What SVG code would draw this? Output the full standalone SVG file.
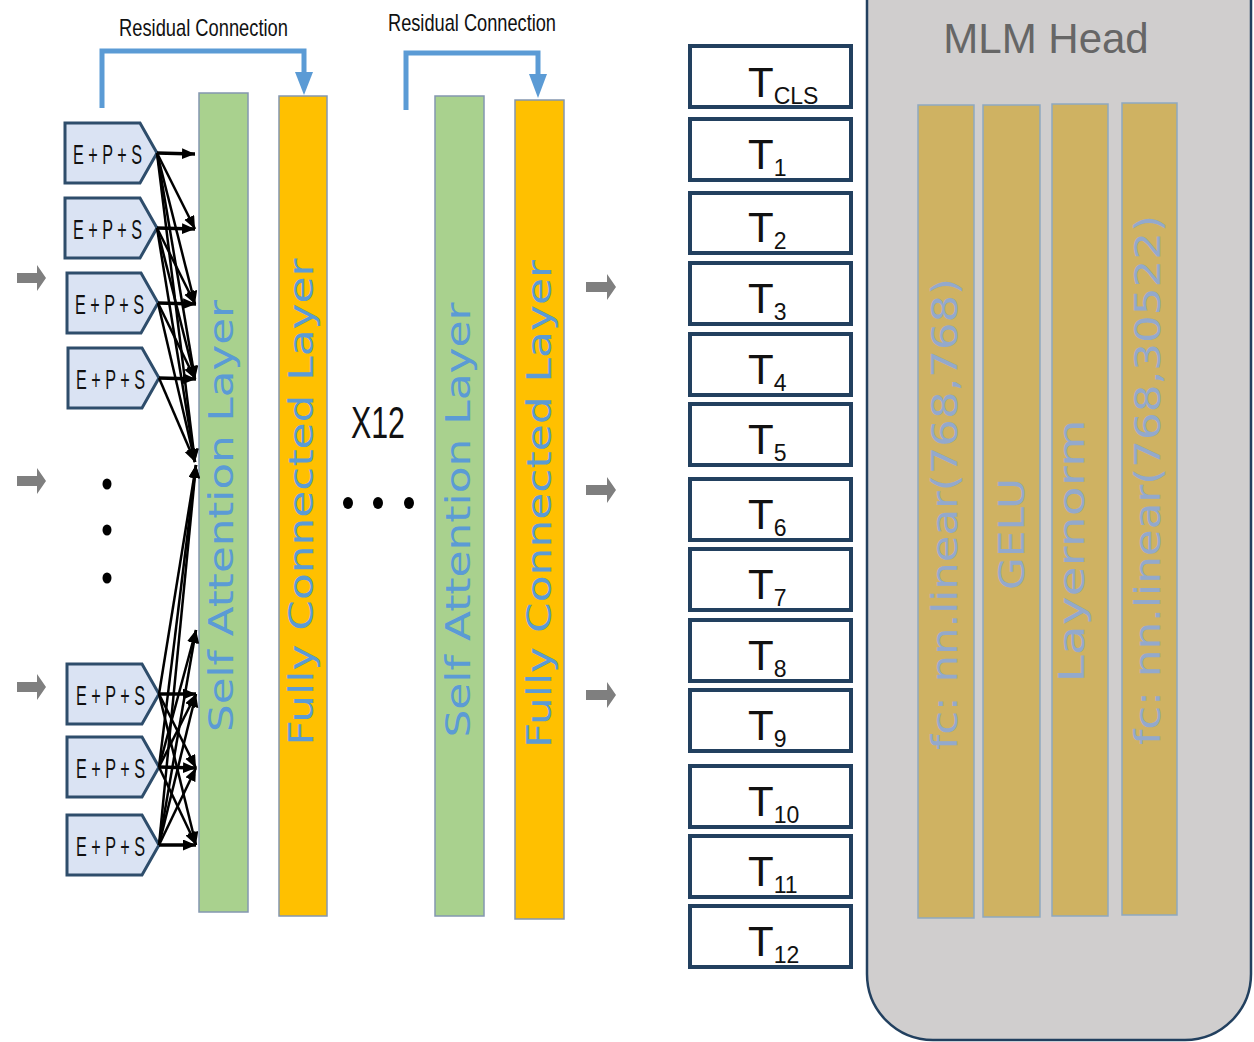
<svg xmlns="http://www.w3.org/2000/svg" width="1254" height="1042" viewBox="0 0 1254 1042">
<defs>
<style>
.eps{fill:#dae3f3;stroke:#2e4d6b;stroke-width:3;stroke-linejoin:miter}
.epst{font-family:"Liberation Sans",Arial,sans-serif;font-size:27px;fill:#111;white-space:pre}
.sa{fill:#a9d18e;stroke:#8497b0;stroke-width:1.5}
.fc{fill:#ffc000;stroke:#8497b0;stroke-width:1.5}
.lt{font-family:"DejaVu Sans","Liberation Sans",sans-serif;font-size:34px;fill:#5b9bd5;text-anchor:middle}
.res{fill:none;stroke:#5b9bd5;stroke-width:5}
.rest{font-family:"Liberation Sans",Arial,sans-serif;font-size:24px;fill:#111}
.tb{fill:#fff;stroke:#22405f;stroke-width:4}
.tt{font-family:"Liberation Sans",Arial,sans-serif;font-size:42px;fill:#111}
.ts{font-size:23px}
.gold{fill:#cfb262;stroke:#8ea9c1;stroke-width:1.5}
.gt{font-family:"DejaVu Sans","Liberation Sans",sans-serif;font-size:36px;fill:#93a9cc;text-anchor:middle}
.ga{fill:#7f7f7f}
.c{stroke:#000;stroke-width:2.5;fill:none;marker-end:url(#ah)}
.cs{stroke:#000;stroke-width:3.5;fill:none;marker-end:url(#ah)}
.dot{fill:#000}
</style>
<marker id="ah" markerUnits="userSpaceOnUse" markerWidth="14" markerHeight="12" refX="13" refY="5.5" orient="auto">
<path d="M0,0 L13,5.5 L0,11 z" fill="#000"/>
</marker>
</defs>
<rect width="1254" height="1042" fill="#fff"/>

<!-- MLM Head -->
<g id="mlm-head">
<rect x="867" y="-70" width="384" height="1110" rx="66" ry="66" fill="#d0cece" stroke="#22405f" stroke-width="2.5"/>
<text x="1046" y="53" font-family="'Liberation Sans',Arial,sans-serif" font-size="42" fill="#666" text-anchor="middle">MLM Head</text>
</g>
<g id="mlm-fc1">
<rect class="gold" x="918" y="105" width="56" height="813"/>
<text class="gt" transform="translate(957,514) rotate(-90)" textLength="472" lengthAdjust="spacingAndGlyphs">fc: nn.linear(768,768)</text>
</g>
<g id="mlm-gelu">
<rect class="gold" x="983" y="105" width="57" height="812"/>
<text class="gt" transform="translate(1024,534) rotate(-90)" textLength="112" lengthAdjust="spacingAndGlyphs">GELU</text>
</g>
<g id="mlm-layernorm">
<rect class="gold" x="1052" y="104" width="56" height="812"/>
<text class="gt" transform="translate(1084,551) rotate(-90)" textLength="263" lengthAdjust="spacingAndGlyphs">Layernorm</text>
</g>
<g id="mlm-fc2">
<rect class="gold" x="1122" y="103" width="55" height="812"/>
<text class="gt" transform="translate(1160,480) rotate(-90)" textLength="530" lengthAdjust="spacingAndGlyphs">fc: nn.linear(768,30522)</text>
</g>

<!-- Layers -->
<g id="sa1">
<rect class="sa" x="199" y="93" width="49" height="819"/>
<text class="lt" transform="translate(233,516) rotate(-90)" textLength="432" lengthAdjust="spacingAndGlyphs">Self Attention Layer</text>
</g>
<g id="fc1">
<rect class="fc" x="279" y="96" width="48" height="820"/>
<text class="lt" transform="translate(313,502) rotate(-90)" textLength="487" lengthAdjust="spacingAndGlyphs">Fully Connected Layer</text>
</g>
<g id="sa2">
<rect class="sa" x="435" y="96" width="49" height="820"/>
<text class="lt" transform="translate(470,520) rotate(-90)" textLength="435" lengthAdjust="spacingAndGlyphs">Self Attention Layer</text>
</g>
<g id="fc2">
<rect class="fc" x="515" y="100" width="49" height="819"/>
<text class="lt" transform="translate(551,504) rotate(-90)" textLength="488" lengthAdjust="spacingAndGlyphs">Fully Connected Layer</text>
</g>

<!-- Residual connections -->
<g id="residual1">
<text class="rest" x="119" y="36" textLength="169" lengthAdjust="spacingAndGlyphs">Residual Connection</text>
<polyline class="res" points="102,108 102,51 304,51 304,74"/>
<path d="M295,72 L313,72 L304,95 z" fill="#5b9bd5"/>
</g>
<g id="residual2">
<text class="rest" x="388" y="31" textLength="168" lengthAdjust="spacingAndGlyphs">Residual Connection</text>
<polyline class="res" points="406,110 406,53 538,53 538,76"/>
<path d="M529,74 L547,74 L538,98 z" fill="#5b9bd5"/>
</g>

<!-- Embedding nodes -->
<g id="eps1"><path class="eps" d="M65,123 H140 L157,153 L140,183 H65 z"/><text class="epst" x="73" y="164" textLength="69" lengthAdjust="spacingAndGlyphs">E + P + S</text></g>
<g id="eps2"><path class="eps" d="M65,198 H140 L157,228 L140,258 H65 z"/><text class="epst" x="73" y="239" textLength="69" lengthAdjust="spacingAndGlyphs">E + P + S</text></g>
<g id="eps3"><path class="eps" d="M67,273 H141 L158,303 L141,333 H67 z"/><text class="epst" x="75" y="314" textLength="69" lengthAdjust="spacingAndGlyphs">E + P + S</text></g>
<g id="eps4"><path class="eps" d="M68,348 H142 L159,378 L142,408 H68 z"/><text class="epst" x="76" y="389" textLength="69" lengthAdjust="spacingAndGlyphs">E + P + S</text></g>
<g id="eps5"><path class="eps" d="M67,664 H142 L159,694 L142,724 H67 z"/><text class="epst" x="76" y="705" textLength="69" lengthAdjust="spacingAndGlyphs">E + P + S</text></g>
<g id="eps6"><path class="eps" d="M67,737 H142 L159,767 L142,797 H67 z"/><text class="epst" x="76" y="778" textLength="69" lengthAdjust="spacingAndGlyphs">E + P + S</text></g>
<g id="eps7"><path class="eps" d="M67,815 H142 L159,845 L142,875 H67 z"/><text class="epst" x="76" y="856" textLength="69" lengthAdjust="spacingAndGlyphs">E + P + S</text></g>

<!-- Ellipsis and repeat -->
<g id="dots-v">
<ellipse class="dot" cx="107" cy="484" rx="4.5" ry="5.5"/>
<ellipse class="dot" cx="107" cy="530" rx="4.5" ry="5.5"/>
<ellipse class="dot" cx="107" cy="578" rx="4.5" ry="5.5"/>
</g>
<g id="repeat">
<text x="351" y="438" font-family="'Liberation Sans',Arial,sans-serif" font-size="44" fill="#111" textLength="54" lengthAdjust="spacingAndGlyphs">X12</text>
<ellipse class="dot" cx="348" cy="503" rx="5" ry="6"/>
<ellipse class="dot" cx="378" cy="503" rx="5" ry="6"/>
<ellipse class="dot" cx="409" cy="503" rx="5" ry="6"/>
</g>

<!-- Output tokens -->
<g id="t-cls"><rect class="tb" x="690" y="46" width="161" height="61"/><text class="tt" x="748" y="97">T<tspan class="ts" dy="7">CLS</tspan></text></g>
<g id="t1"><rect class="tb" x="690" y="119" width="161" height="61"/><text class="tt" x="748" y="169">T<tspan class="ts" dy="7">1</tspan></text></g>
<g id="t2"><rect class="tb" x="690" y="193" width="161" height="60"/><text class="tt" x="748" y="242">T<tspan class="ts" dy="7">2</tspan></text></g>
<g id="t3"><rect class="tb" x="690" y="263" width="161" height="61"/><text class="tt" x="748" y="313">T<tspan class="ts" dy="7">3</tspan></text></g>
<g id="t4"><rect class="tb" x="690" y="334" width="161" height="61"/><text class="tt" x="748" y="384">T<tspan class="ts" dy="7">4</tspan></text></g>
<g id="t5"><rect class="tb" x="690" y="404" width="161" height="61"/><text class="tt" x="748" y="454">T<tspan class="ts" dy="7">5</tspan></text></g>
<g id="t6"><rect class="tb" x="690" y="479" width="161" height="61"/><text class="tt" x="748" y="529">T<tspan class="ts" dy="7">6</tspan></text></g>
<g id="t7"><rect class="tb" x="690" y="549" width="161" height="61"/><text class="tt" x="748" y="599">T<tspan class="ts" dy="7">7</tspan></text></g>
<g id="t8"><rect class="tb" x="690" y="620" width="161" height="61"/><text class="tt" x="748" y="670">T<tspan class="ts" dy="7">8</tspan></text></g>
<g id="t9"><rect class="tb" x="690" y="690" width="161" height="61"/><text class="tt" x="748" y="740">T<tspan class="ts" dy="7">9</tspan></text></g>
<g id="t10"><rect class="tb" x="690" y="766" width="161" height="61"/><text class="tt" x="748" y="816">T<tspan class="ts" dy="7">10</tspan></text></g>
<g id="t11"><rect class="tb" x="690" y="836" width="161" height="61"/><text class="tt" x="748" y="886">T<tspan class="ts" dy="7">11</tspan></text></g>
<g id="t12"><rect class="tb" x="690" y="906" width="161" height="61"/><text class="tt" x="748" y="956">T<tspan class="ts" dy="7">12</tspan></text></g>

<!-- Connectors -->
<g id="connectors">
<path class="ga" d="M17,273 H37 V265 L46,278 L37,291 V283 H17 z"/>
<path class="ga" d="M17,476 H37 V468 L46,481 L37,494 V486 H17 z"/>
<path class="ga" d="M17,682 H37 V674 L46,687 L37,700 V692 H17 z"/>
<path class="ga" d="M586,282 H607 V274 L616,287 L607,300 V292 H586 z"/>
<path class="ga" d="M586,485 H607 V477 L616,490 L607,503 V495 H586 z"/>
<path class="ga" d="M586,690 H607 V682 L616,695 L607,708 V700 H586 z"/>

<line class="cs" x1="157" y1="153" x2="195" y2="154"/>
<line class="c" x1="157" y1="153" x2="195" y2="229"/>
<line class="c" x1="157" y1="153" x2="195" y2="304"/>
<line class="c" x1="157" y1="153" x2="195" y2="379"/>
<line class="c" x1="157" y1="153" x2="195" y2="462"/>
<line class="cs" x1="157" y1="228" x2="195" y2="229"/>
<line class="c" x1="157" y1="228" x2="195" y2="304"/>
<line class="c" x1="157" y1="228" x2="195" y2="379"/>
<line class="c" x1="157" y1="228" x2="195" y2="462"/>
<line class="cs" x1="158" y1="303" x2="196" y2="304"/>
<line class="c" x1="158" y1="303" x2="195" y2="379"/>
<line class="c" x1="158" y1="303" x2="195" y2="462"/>
<line class="cs" x1="159" y1="378" x2="196" y2="379"/>
<line class="c" x1="159" y1="378" x2="195" y2="462"/>

<line class="cs" x1="159" y1="694" x2="196" y2="694"/>
<line class="c" x1="159" y1="694" x2="196" y2="768"/>
<line class="c" x1="159" y1="694" x2="196" y2="845"/>
<line class="c" x1="159" y1="694" x2="196" y2="465"/>
<line class="cs" x1="159" y1="767" x2="196" y2="768"/>
<line class="c" x1="159" y1="767" x2="196" y2="694"/>
<line class="c" x1="159" y1="767" x2="196" y2="845"/>
<line class="c" x1="159" y1="767" x2="196" y2="465"/>
<line class="c" x1="159" y1="767" x2="196" y2="630"/>
<line class="cs" x1="159" y1="845" x2="196" y2="845"/>
<line class="c" x1="159" y1="845" x2="196" y2="694"/>
<line class="c" x1="159" y1="845" x2="196" y2="768"/>
<line class="c" x1="159" y1="845" x2="196" y2="465"/>
<line class="c" x1="159" y1="845" x2="196" y2="630"/>
</g>
</svg>
